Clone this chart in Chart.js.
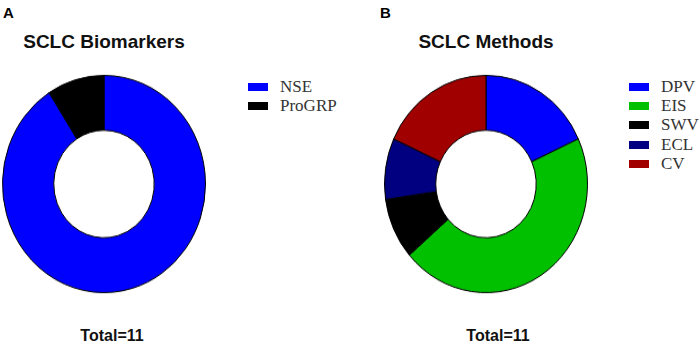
<!DOCTYPE html>
<html>
<head>
<meta charset="utf-8">
<script src="https://cdn.jsdelivr.net/npm/chart.js@4"></script>
<style>
  html, body { margin: 0; padding: 0; background: #fff; }
  body { width: 700px; height: 345px; position: relative; overflow: hidden; }
  .abs { position: absolute; white-space: nowrap; }
  .panel-label { font: bold 15px "Liberation Sans", Arial, sans-serif; color: #000; line-height: 15px; }
  .title { font: bold 19px "Liberation Sans", Arial, sans-serif; color: #111; line-height: 19px; transform: translateX(-50%); }
  .total { font: bold 16px "Liberation Sans", Arial, sans-serif; color: #111; line-height: 16px; transform: translateX(-50%); }
  .donut { position: absolute; transform: scale(1, 1.07); transform-origin: 50% 50%; }
  .legend { position: absolute; }
  .legend-row { display: flex; align-items: center; height: 19.3px; }
  .legend-box { width: 20px; height: 8px; margin-right: 12px; }
  .legend-text { font: 17px "Liberation Serif", "Times New Roman", serif; color: #333; }
</style>
</head>
<body>

<div class="abs panel-label" style="left:3px; top:5px;">A</div>
<div class="abs panel-label" style="left:380px; top:5px;">B</div>

<div class="abs title" style="left:104px; top:32px;">SCLC Biomarkers</div>
<div class="abs title" style="left:486px; top:32px;">SCLC Methods</div>

<canvas id="chartA" class="donut" width="208" height="208" style="left:0px; top:80px; width:208px; height:208px;"></canvas>
<canvas id="chartB" class="donut" width="208" height="208" style="left:382px; top:80px; width:208px; height:208px;"></canvas>

<div id="legendA" class="legend" style="left:248px; top:77px;"></div>
<div id="legendB" class="legend" style="left:629px; top:77px;"></div>

<div id="totalA" class="abs total" style="left:112px; top:328px;"></div>
<div id="totalB" class="abs total" style="left:498px; top:328px;"></div>

<script>
/* ---- Panel A: biomarkers ---- */
const biomarkerLabels = ['NSE', 'ProGRP'];
const biomarkerCounts = [10, 1];
const biomarkerColors = ['#0000ff', '#000000'];

/* ---- Panel B: methods ---- */
const methodLabels = ['DPV', 'EIS', 'SWV', 'ECL', 'CV'];
const methodCounts = [2, 5, 1, 1, 2];
const methodColors = ['#0000ff', '#00c000', '#000000', '#000080', '#a00000'];

function makeDonut(id, labels, values, colors) {
  return new Chart(document.getElementById(id), {
    type: 'doughnut',
    data: {
      labels,
      datasets: [{
        data: values,
        backgroundColor: colors,
        borderColor: '#000',
        borderWidth: 1,
      }],
    },
    options: {
      responsive: false,
      devicePixelRatio: 1,
      animation: false,
      cutout: '49.5%',
      layout: { padding: 2 },
      plugins: {
        legend: { display: false },
        tooltip: { enabled: false },
      },
    },
  });
}

function buildLegend(id, labels, colors) {
  let html = '';
  labels.forEach((l, i) => {
    html += `<div class="legend-row"><span class="legend-box" style="background:${colors[i]}"></span><span class="legend-text">${l}</span></div>`;
  });
  document.getElementById(id).innerHTML = html;
}

const sum = (arr) => arr.reduce((s, v) => s + v, 0);

makeDonut('chartA', biomarkerLabels, biomarkerCounts, biomarkerColors);
makeDonut('chartB', methodLabels, methodCounts, methodColors);
buildLegend('legendA', biomarkerLabels, biomarkerColors);
buildLegend('legendB', methodLabels, methodColors);
document.getElementById('totalA').textContent = 'Total=' + sum(biomarkerCounts);
document.getElementById('totalB').textContent = 'Total=' + sum(methodCounts);
</script>
</body>
</html>
